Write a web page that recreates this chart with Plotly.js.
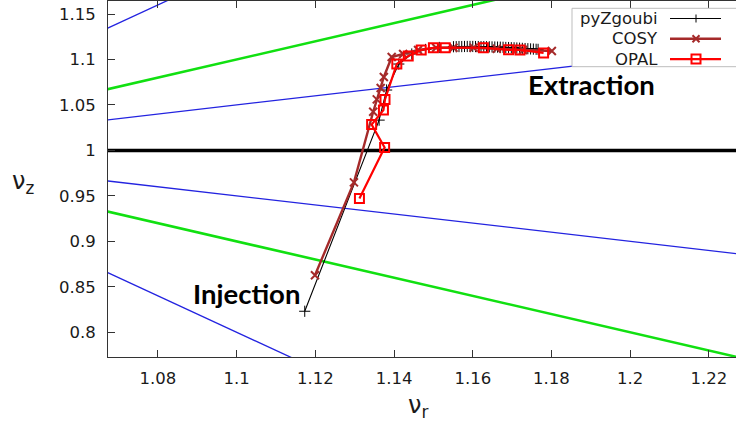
<!DOCTYPE html>
<html>
<head>
<meta charset="utf-8">
<script src="https://cdn.plot.ly/plotly-3.0.1.min.js"></script>
<style>html,body{margin:0;padding:0;background:#fff;}#chart{width:736px;height:426px;}</style>
</head>
<body>
<div id="chart"></div>
<script>
// ---- data ----
const zgoubiNr = [1.1173, 1.1362, 1.1381, 1.1412, 1.1445, 1.1480, 1.1515,
  1.1551, 1.1558, 1.1565, 1.1572, 1.1579, 1.1586, 1.1593, 1.1600, 1.1607, 1.1614,
  1.1621, 1.1628, 1.1635, 1.1642, 1.1649, 1.1656, 1.1663, 1.1670, 1.1677, 1.1684,
  1.1691, 1.1698, 1.1705, 1.1712, 1.1719, 1.1726, 1.1733, 1.1740, 1.1747, 1.1754,
  1.1761, 1.1766];
const zgoubiNz = [0.8231, 1.0333, 1.0664, 1.0950, 1.1060, 1.1110, 1.1132,
  1.1140, 1.1141, 1.1142, 1.1142, 1.1143, 1.1143, 1.1143, 1.1143, 1.1142, 1.1142,
  1.1141, 1.1141, 1.1140, 1.1139, 1.1138, 1.1137, 1.1136, 1.1135, 1.1134, 1.1132,
  1.1131, 1.1129, 1.1128, 1.1126, 1.1124, 1.1122, 1.1120, 1.1118, 1.1116, 1.1114,
  1.1112, 1.1111];

const cosyNr = [1.1199, 1.1298, 1.1347, 1.1356, 1.1366, 1.1374, 1.1394, 1.1423,
  1.1461, 1.1507, 1.1551, 1.1602, 1.1661, 1.1728, 1.1801];
const cosyNz = [0.8627, 0.9648, 1.0425, 1.0561, 1.0686, 1.0807, 1.1027, 1.1060,
  1.1104, 1.1129, 1.1129, 1.1129, 1.1118, 1.1104, 1.1093];

const opalNr = [1.1312, 1.1376, 1.1343, 1.1373, 1.1377, 1.1407, 1.1436, 1.1469,
  1.1500, 1.1530, 1.1627, 1.1691, 1.1720, 1.1780];
const opalNz = [0.9472, 1.0031, 1.0284, 1.0443, 1.0561, 1.0950, 1.1038, 1.1104,
  1.1129, 1.1129, 1.1129, 1.1106, 1.1104, 1.1072];

// resonance lines (end points, clipped by the axes)
const blueLines = [
  {nr: [1.06, 1.09], nz: [1.12, 1.18]},
  {nr: [1.06, 1.24], nz: [1.03, 1.12]},
  {nr: [1.06, 1.24], nz: [0.97, 0.88]},
  {nr: [1.06, 1.12], nz: [0.88, 0.76]}
];
const greenLines = [
  {nr: [1.06, 1.18], nz: [1.06, 1.18]},
  {nr: [1.06, 1.24], nz: [0.94, 0.76]}
];
const unityLine = {nr: [1.06, 1.24], nz: [1.0, 1.0]};

const xTickVals = [1.08, 1.10, 1.12, 1.14, 1.16, 1.18, 1.20, 1.22];
const xTickText = ['1.08', '1.1', '1.12', '1.14', '1.16', '1.18', '1.2', '1.22'];
const yTickVals = [0.80, 0.85, 0.90, 0.95, 1.00, 1.05, 1.10, 1.15];
const yTickText = ['0.8', '0.85', '0.9', '0.95', '1', '1.05', '1.1', '1.15'];

const seriesNames = ['pyZgoubi', 'COSY', 'OPAL'];
const annInjection = {nr: 1.1026, nz: 0.8429, text: 'Injection'};
const annExtraction = {nr: 1.1901, nz: 1.0722, text: 'Extraction'};

// ---- styles ----
const BLUE = '#2323e0', GREEN = '#11e011', COSYC = '#a52a2a', OPALC = '#ff0000';
const W = 736, H = 426, ML = 108, MR = 0, MT = 1, MB = 69;
const PW = W - ML - MR, PH = H - MT - MB;
const px = v => (v - ML) / PW;          // pixel -> paper x
const py = v => 1 - (v - MT) / PH;      // pixel -> paper y

const traces = [];
blueLines.forEach(l => traces.push({x: l.nr, y: l.nz, mode: 'lines', line: {color: BLUE, width: 1.3}, showlegend: false, hoverinfo: 'skip'}));
greenLines.forEach(l => traces.push({x: l.nr, y: l.nz, mode: 'lines', line: {color: GREEN, width: 2.6}, showlegend: false, hoverinfo: 'skip'}));
traces.push({x: unityLine.nr, y: unityLine.nz, mode: 'lines', line: {color: '#000', width: 3.5}, showlegend: false, hoverinfo: 'skip'});

traces.push({x: zgoubiNr, y: zgoubiNz, name: seriesNames[0], mode: 'lines+markers',
  line: {color: '#000', width: 1.1},
  marker: {symbol: 'cross-thin', size: 8, color: '#000', line: {color: '#000', width: 1}}, showlegend: false});
traces.push({x: cosyNr, y: cosyNz, name: seriesNames[1], mode: 'lines+markers',
  line: {color: COSYC, width: 2.4},
  marker: {symbol: 'x-thin', size: 8, color: COSYC, line: {color: COSYC, width: 2}}, showlegend: false});
traces.push({x: opalNr, y: opalNz, name: seriesNames[2], mode: 'lines+markers',
  line: {color: OPALC, width: 2.2},
  marker: {symbol: 'square-open', size: 9, color: OPALC, line: {color: OPALC, width: 2}}, showlegend: false});

// ---- custom gnuplot-style legend (text left, sample right) ----
const rows = [18.5, 38.8, 59.1];
const legColors = ['#000', COSYC, OPALC];
const legWidths = [1.1, 2.4, 2.2];
const shapes = [{type: 'rect', xref: 'paper', yref: 'paper', x0: px(572), x1: px(745), y0: py(8.3), y1: py(66.7),
  line: {color: '#bdbdbd', width: 1}, fillcolor: '#fff', layer: 'above'}];
const annotations = [];
rows.forEach((r, i) => {
  shapes.push({type: 'line', xref: 'paper', yref: 'paper', x0: px(670), x1: px(721), y0: py(r), y1: py(r),
    line: {color: legColors[i], width: legWidths[i]}, layer: 'above'});
  annotations.push({xref: 'paper', yref: 'paper', x: px(659), y: py(r), xanchor: 'right', yanchor: 'middle',
    text: seriesNames[i], showarrow: false, borderpad: 0, font: {family: 'DejaVu Sans', size: 16.5, color: '#1a1a1a'}});
});
const mx = 696;
// + marker
shapes.push({type: 'path', xref: 'paper', yref: 'paper', layer: 'above', line: {color: '#000', width: 1},
  path: `M${px(mx-4)},${py(rows[0])} L${px(mx+4)},${py(rows[0])} M${px(mx)},${py(rows[0]-4)} L${px(mx)},${py(rows[0]+4)}`});
// x marker
shapes.push({type: 'path', xref: 'paper', yref: 'paper', layer: 'above', line: {color: COSYC, width: 2},
  path: `M${px(mx-3.5)},${py(rows[1]-3.5)} L${px(mx+3.5)},${py(rows[1]+3.5)} M${px(mx-3.5)},${py(rows[1]+3.5)} L${px(mx+3.5)},${py(rows[1]-3.5)}`});
// square marker
shapes.push({type: 'rect', xref: 'paper', yref: 'paper', layer: 'above', line: {color: OPALC, width: 2}, fillcolor: 'rgba(0,0,0,0)',
  x0: px(mx-4.5), x1: px(mx+4.5), y0: py(rows[2]-4.5), y1: py(rows[2]+4.5)});

// text annotations
[annInjection, annExtraction].forEach(a => annotations.push({x: a.nr, y: a.nz, xref: 'x', yref: 'y', text: '<b>' + a.text + '</b>',
  showarrow: false, borderpad: 0, xanchor: 'center', yanchor: 'middle', font: {family: 'Lato', size: 27.5, color: '#000'}}));
// axis titles (horizontal, gnuplot-style)
annotations.push({xref: 'paper', yref: 'paper', x: px(23), y: py(182), text: 'ν<sub>z</sub>', showarrow: false,
  xanchor: 'center', yanchor: 'middle', font: {family: 'DejaVu Sans', size: 24, color: '#1a1a1a'}});
annotations.push({xref: 'paper', yref: 'paper', x: px(418), y: py(406), text: 'ν<sub>r</sub>', showarrow: false,
  xanchor: 'center', yanchor: 'middle', font: {family: 'DejaVu Sans', size: 24, color: '#1a1a1a'}});

const axisCommon = {showgrid: false, zeroline: false, showline: true, linecolor: '#333', linewidth: 1,
  ticks: 'inside', ticklen: 7, tickwidth: 1, tickcolor: '#333',
  tickfont: {family: 'DejaVu Sans', size: 16.5, color: '#1a1a1a'}};

const layout = {
  width: W, height: H, margin: {l: ML, r: MR, t: MT, b: MB, pad: 0},
  paper_bgcolor: '#fff', plot_bgcolor: '#fff', showlegend: false,
  font: {family: 'DejaVu Sans', size: 16, color: '#1a1a1a'},
  xaxis: Object.assign({}, axisCommon, {range: [1.0673, 1.2269], tickvals: xTickVals, ticktext: xTickText, mirror: 'ticks', ticklabelstandoff: 6}),
  yaxis: Object.assign({}, axisCommon, {range: [0.7728, 1.1643], tickvals: yTickVals, ticktext: yTickText, mirror: false, ticklabelstandoff: 8}),
  shapes: shapes, annotations: annotations
};

Plotly.newPlot('chart', traces, layout, {displayModeBar: false, staticPlot: true});
</script>
</body>
</html>
